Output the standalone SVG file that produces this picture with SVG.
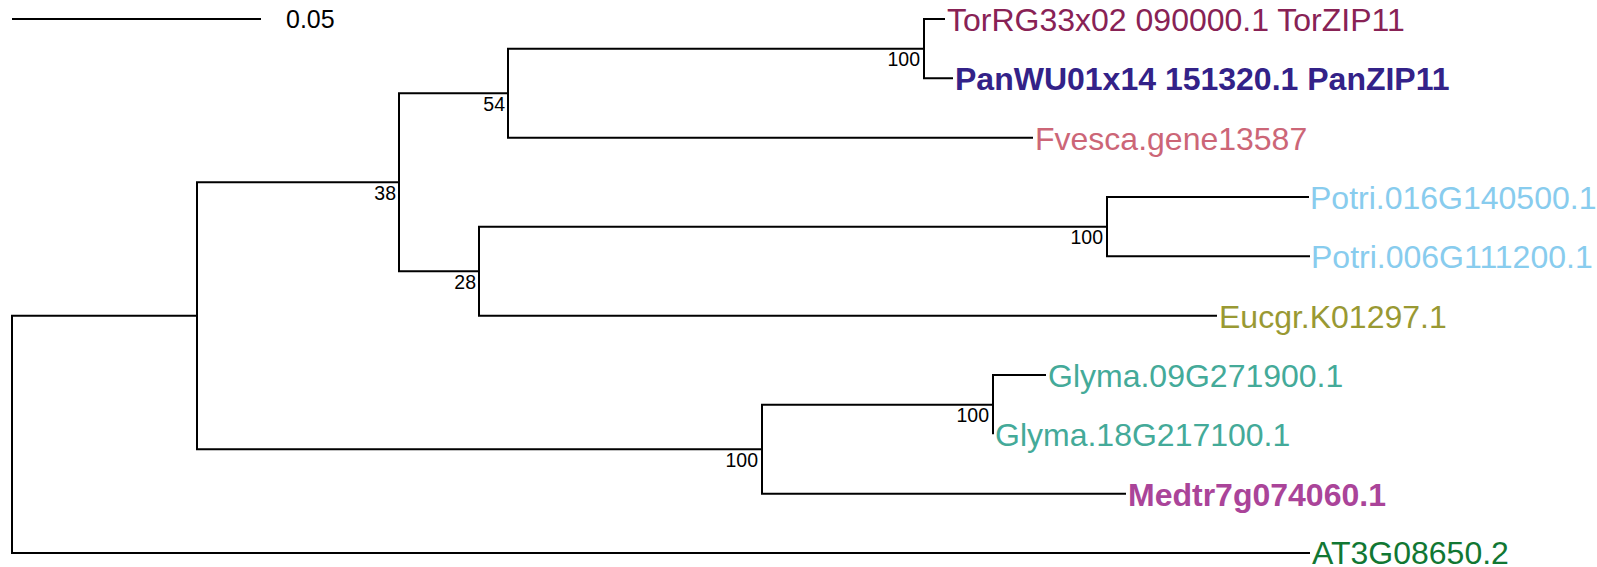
<svg xmlns="http://www.w3.org/2000/svg" width="1597" height="567" viewBox="0 0 1597 567">
  <style>
    .edge { fill: none; stroke: #000; stroke-width: 2; stroke-linejoin: miter; }
    .tip { font-family: "Liberation Sans", Arial, sans-serif; font-size: 32px; }
    .bold { font-weight: bold; }
    .bs { font-family: "Liberation Sans", Arial, sans-serif; font-size: 19.5px; fill: #000; text-anchor: end; }
    .scale { font-family: "Liberation Sans", Arial, sans-serif; font-size: 25px; fill: #000; }
  </style>
  <rect width="1597" height="567" fill="#fff"/>

  <g id="scalebar">
    <line x1="12" y1="19" x2="261" y2="19" class="edge"/>
    <text x="286" y="28" class="scale">0.05</text>
  </g>

  <g id="connectors">
    <path class="edge" d="M197 315.7 H12 V553 H1310"/>
    <path class="edge" d="M399 182.2 H197 V449.2 H762"/>
    <path class="edge" d="M508 93.2 H399 V271.2 H479"/>
    <path class="edge" d="M924 48.7 H508 V137.7 H1033"/>
    <path class="edge" d="M945 19 H924 V78.3 H953"/>
    <path class="edge" d="M1107 226.7 H479 V315.7 H1217"/>
    <path class="edge" d="M1309 197 H1107 V256.3 H1310"/>
    <path class="edge" d="M993 404.7 H762 V493.7 H1126"/>
    <path class="edge" d="M1046 375 H993 V434.3"/>
  </g>

  <g id="node-D"><text x="920" y="66" class="bs">100</text></g>
  <g id="node-C"><text x="505" y="111" class="bs">54</text></g>
  <g id="node-B"><text x="396" y="200" class="bs">38</text></g>
  <g id="node-E"><text x="476" y="289" class="bs">28</text></g>
  <g id="node-F"><text x="1103" y="244" class="bs">100</text></g>
  <g id="node-H"><text x="989" y="422" class="bs">100</text></g>
  <g id="node-G"><text x="758" y="467" class="bs">100</text></g>

  <g id="tip-TorRG"><text x="947" y="30.5" class="tip" fill="#882255">TorRG33x02 090000.1 TorZIP11</text></g>
  <g id="tip-PanWU"><text x="955" y="90" class="tip bold" fill="#332288">PanWU01x14 151320.1 PanZIP11</text></g>
  <g id="tip-Fvesca"><text x="1035" y="149.5" class="tip" fill="#CC6677">Fvesca.gene13587</text></g>
  <g id="tip-Potri016"><text x="1310" y="208.5" class="tip" fill="#88CCEE">Potri.016G140500.1</text></g>
  <g id="tip-Potri006"><text x="1311" y="268" class="tip" fill="#88CCEE">Potri.006G111200.1</text></g>
  <g id="tip-Eucgr"><text x="1219" y="327.5" class="tip" fill="#999933">Eucgr.K01297.1</text></g>
  <g id="tip-Glyma09"><text x="1048" y="386.5" class="tip" fill="#44AA99">Glyma.09G271900.1</text></g>
  <g id="tip-Glyma18"><text x="995" y="446" class="tip" fill="#44AA99">Glyma.18G217100.1</text></g>
  <g id="tip-Medtr"><text x="1128" y="505.5" class="tip bold" fill="#AA4499">Medtr7g074060.1</text></g>
  <g id="tip-AT3G"><text x="1312" y="564" class="tip" fill="#117733">AT3G08650.2</text></g>
</svg>
